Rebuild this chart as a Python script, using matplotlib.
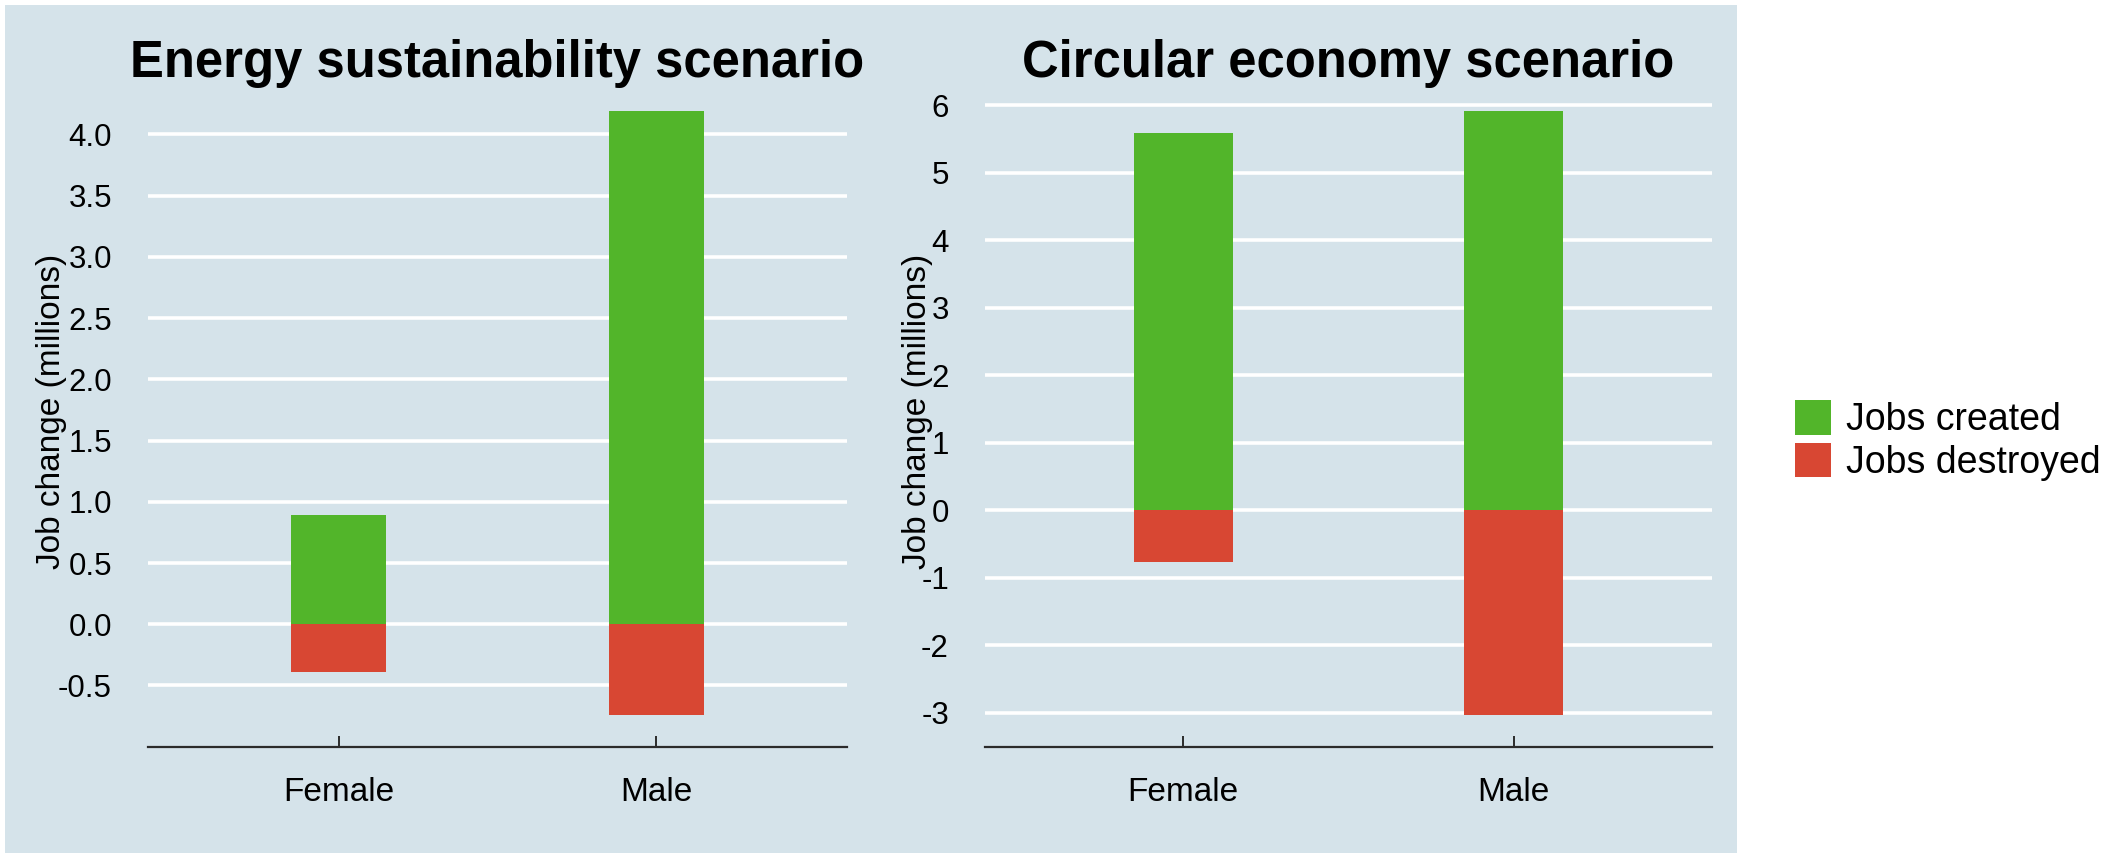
import numpy as np
import matplotlib
matplotlib.use('Agg')
import matplotlib.pyplot as plt
from matplotlib.patches import Rectangle

plt.rcParams['font.family'] = ['Liberation Sans', 'DejaVu Sans']

genders = ['Female', 'Male']

# energy sustainability scenario (millions of jobs)
energy_created = [0.89, 4.19]
energy_destroyed = [-0.39, -0.74]

# circular economy scenario
circular_created = [5.59, 5.92]
circular_destroyed = [-0.76, -3.03]

titles = ['Energy sustainability scenario', 'Circular economy scenario']
energy_ticks = [-0.5, 0.0, 0.5, 1.0, 1.5, 2.0, 2.5, 3.0, 3.5, 4.0]
circular_ticks = [-3, -2, -1, 0, 1, 2, 3, 4, 5, 6]

green = '#52b52a'
red = '#d84733'
panel = '#d5e3ea'

W, H = 2116, 855
fig = plt.figure(figsize=(W / 100, H / 100), dpi=100)
fig.patch.set_facecolor('white')

# light blue panel behind both plots
fig.patches.append(Rectangle((5 / W, 2 / H), 1732 / W, 848 / H, transform=fig.transFigure,
                             facecolor=panel, edgecolor='none', zorder=-10))

ax_bottom = (H - 746.7) / H
ax_h = 652.7 / H
ax1 = fig.add_axes([148 / W, ax_bottom, 699 / W, ax_h])
ax2 = fig.add_axes([985 / W, ax_bottom, 727 / W, ax_h])

x = np.arange(len(genders))

setups = [
    (ax1, energy_created, energy_destroyed, energy_ticks, (-1.0, 4.33), '%.1f', -0.116),
    (ax2, circular_created, circular_destroyed, circular_ticks, (-3.5, 6.17), '%d', -0.0715),
]

for i, (ax, created, destroyed, ticks, ylim, fmt, lab_x) in enumerate(setups):
    ax.set_facecolor('none')
    ax.bar(x, created, width=0.3, color=green, label='Jobs created', zorder=3)
    ax.bar(x, destroyed, width=0.3, color=red, label='Jobs destroyed', zorder=3)
    ax.set_xlim(-0.6, 1.6)
    ax.set_ylim(*ylim)
    ax.set_yticks(ticks)
    ax.set_yticklabels([fmt % t for t in ticks])
    ax.grid(axis='y', color='white', linewidth=2.6, zorder=1)
    ax.set_axisbelow(True)
    for s in ['top', 'right', 'left']:
        ax.spines[s].set_visible(False)
    ax.spines['bottom'].set_color('#2b2b2b')
    ax.spines['bottom'].set_linewidth(1.6)
    ax.set_xticks(x)
    ax.set_xticklabels(genders)
    ax.tick_params(axis='x', direction='in', length=8, width=1.4, color='#2b2b2b',
                   labelsize=24, pad=22)
    ax.tick_params(axis='y', length=0, labelsize=22.5, pad=26)
    ax.set_ylabel('Job change (millions)', fontsize=24)
    ax.yaxis.set_label_coords(lab_x, 0.514)
    fig.text((ax.get_position().x0 + ax.get_position().x1) / 2, 1 - 77 / H, titles[i],
             ha='center', va='baseline', fontsize=36.5, fontweight='bold')

handles, labels = ax2.get_legend_handles_labels()
fig.legend(handles, labels, loc='upper left', bbox_to_anchor=(1795 / W, 1 - 400 / H),
           frameon=False, fontsize=27, handlelength=0.95, handleheight=1.05,
           handletextpad=0.4, labelspacing=0.12, borderpad=0, borderaxespad=0)

fig.savefig('out.png', dpi=100)
